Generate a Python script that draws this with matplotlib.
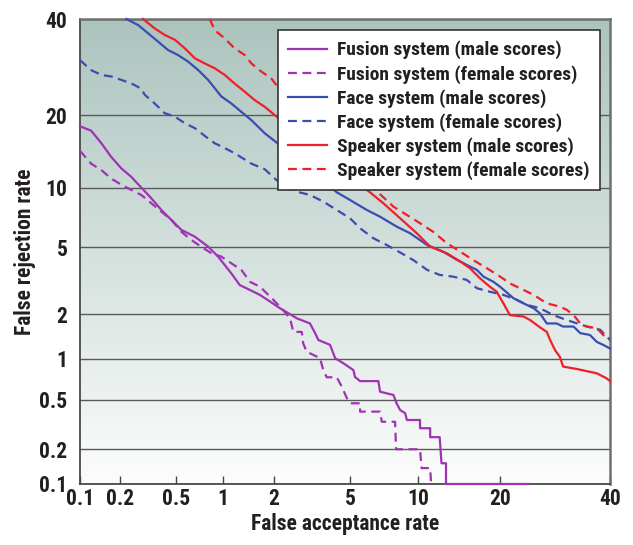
import math
import numpy as np
import matplotlib
matplotlib.use("Agg")
import matplotlib.pyplot as plt
from matplotlib import font_manager

# ---------------- data (percent) ----------------
tick_values = [0.1, 0.2, 0.5, 1, 2, 5, 10, 20, 40]
tick_labels = ["0.1", "0.2", "0.5", "1", "2", "5", "10", "20", "40"]

fusion_male_fa = [0.1, 0.122, 0.146, 0.173, 0.206, 0.243, 0.287, 0.338, 0.397, 0.465, 0.542, 0.665, 0.81, 0.936,
                  1.13, 1.27, 1.46, 1.67, 1.91, 2.17, 2.46, 2.68, 3.15, 3.35, 3.48, 3.99, 4.23, 4.64, 5.19, 5.28,
                  5.58, 6.77, 6.89, 7.89, 8.14, 8.43, 8.86, 9.0, 10.2, 10.2, 11.2, 11.2, 12.2, 12.4, 12.9, 12.9, 24.6]
fusion_male_fr = [18.2, 17.5, 15.6, 13.7, 12.2, 11.2, 10.0, 8.9, 7.8, 6.95, 6.18, 5.69, 5.03, 4.43,
                  3.55, 3.03, 2.83, 2.64, 2.40, 2.18, 2.00, 1.88, 1.74, 1.50, 1.35, 1.25, 1.01, 0.93, 0.83, 0.74,
                  0.69, 0.69, 0.575, 0.543, 0.469, 0.416, 0.392, 0.347, 0.347, 0.298, 0.298, 0.252, 0.252, 0.152,
                  0.152, 0.1, 0.1]

fusion_female_fa = [0.1, 0.122, 0.146, 0.173, 0.206, 0.243, 0.287, 0.338, 0.397, 0.465, 0.542, 0.63, 0.73, 0.85,
                    0.98, 1.13, 1.30, 1.46, 1.67, 1.91, 2.17, 2.46, 2.57, 2.85, 2.90, 3.03, 3.55, 3.69, 3.84, 4.31,
                    4.56, 4.83, 5.0, 5.58, 5.58, 6.89, 7.01, 8.02, 8.1, 10.2, 10.35, 11.2, 11.3]
fusion_female_fr = [14.5, 12.8, 12.0, 11.0, 10.3, 9.75, 9.23, 8.42, 7.65, 6.95, 6.04, 5.47, 5.03, 4.62,
                    4.43, 4.06, 3.72, 3.17, 2.96, 2.58, 2.23, 1.89, 1.53, 1.53, 1.28, 1.12, 1.01, 0.83, 0.736, 0.736,
                    0.627, 0.513, 0.469, 0.469, 0.404, 0.404, 0.336, 0.336, 0.20, 0.20, 0.138, 0.138, 0.1]

face_male_fa = [0.224, 0.272, 0.320, 0.376, 0.441, 0.515, 0.60, 0.70, 0.81, 0.98, 1.13, 1.30, 1.49, 1.78, 2.10,
                2.97, 4.31, 5.0, 6.0, 6.89, 8.14, 9.29, 10.9, 12.6, 14.2, 15.4, 16.7, 17.6, 19.0, 20.0, 22.05,
                23.7, 25.4, 26.5, 27.7, 29.5, 30.7, 32.7, 34.0, 35.9, 37.3, 38.6, 40.0]
face_male_fr = [40, 38.6, 36.7, 34.8, 32.9, 31.8, 30.4, 28.6, 26.6, 23.4, 22.1, 20.6, 19.2, 17.1, 15.6,
                12.5, 9.5, 8.73, 7.8, 7.22, 6.43, 5.93, 5.13, 4.71, 4.24, 3.97, 3.72, 3.40, 3.17, 2.96, 2.52,
                2.34, 2.18, 2.02, 1.74, 1.74, 1.66, 1.66, 1.50, 1.46, 1.31, 1.25, 1.18]

face_female_fa = [0.1, 0.122, 0.146, 0.173, 0.206, 0.243, 0.287, 0.304, 0.357, 0.418, 0.49, 0.571, 0.665, 0.77,
                  0.89, 1.03, 1.18, 1.49, 1.78, 2.08, 2.68, 3.15, 3.69, 4.31, 5.0, 5.58, 6.43, 7.38, 8.43, 9.56,
                  10.9, 12.2, 13.7, 15.4, 16.7, 18.5, 20.5, 22.6, 24.2, 26.5, 28.9, 31.4, 35.3, 38.0, 40.0]
face_female_fr = [30.7, 28.6, 27.6, 27.3, 26.6, 25.9, 24.9, 23.7, 22.1, 20.4, 19.8, 18.7, 17.9, 16.7,
                  15.6, 14.9, 14.2, 12.8, 12.1, 10.8, 9.56, 9.23, 8.57, 7.8, 7.09, 6.30, 5.58, 5.13, 4.67, 4.24,
                  3.72, 3.48, 3.40, 3.25, 2.90, 2.76, 2.64, 2.46, 2.29, 2.18, 1.97, 1.83, 1.66, 1.58, 1.35]

speaker_male_fa = [0.295, 0.357, 0.418, 0.49, 0.571, 0.665, 0.77, 0.89, 1.03, 1.18, 1.36, 1.56, 1.78, 2.08,
                   3.55, 6.2, 7.12, 8.43, 9.9, 11.2, 13.0, 14.6, 15.8, 17.1, 18.5, 19.5, 20.5, 21.5, 23.7, 24.8,
                   26.5, 27.7, 28.3, 29.2, 30.1, 30.7, 33.3, 37.3, 39.3, 40.0]
speaker_male_fr = [40, 37.8, 36.3, 35.2, 33.3, 31.1, 30.0, 29.0, 27.6, 25.9, 24.3, 22.7, 21.5, 19.8,
                   13.9, 9.5, 8.42, 7.09, 5.93, 5.03, 4.62, 4.15, 3.80, 3.33, 2.96, 2.76, 2.34, 1.97, 1.93, 1.83,
                   1.64, 1.53, 1.35, 1.15, 1.03, 0.88, 0.846, 0.787, 0.723, 0.69]

speaker_female_fa = [0.83, 0.89, 1.03, 1.18, 1.36, 1.49, 1.70, 1.94, 2.10, 3.99, 6.89, 7.89, 9.0, 10.2, 11.5,
                     13.0, 14.6, 16.2, 18.1, 20.0, 21.5, 23.7, 25.4, 27.7, 30.1, 31.4, 32.7, 34.0, 35.3, 37.3,
                     38.6, 40.0]
speaker_female_fr = [40, 37.4, 35.5, 33.3, 31.8, 30.0, 28.3, 26.9, 25.3, 15.3, 9.3, 8.1, 7.37, 6.69, 6.04,
                     5.25, 4.71, 4.24, 3.80, 3.40, 3.10, 2.83, 2.64, 2.34, 2.23, 2.13, 1.97, 1.74, 1.66, 1.62,
                     1.46, 1.35]

series_labels = ["Fusion system (male scores)", "Fusion system (female scores)",
                 "Face system (male scores)", "Face system (female scores)",
                 "Speaker system (male scores)", "Speaker system (female scores)"]

# ---------------- normal-deviate (probit) scale ----------------
_erf = np.vectorize(math.erf)


def _probit(p):
    p = np.clip(np.atleast_1d(np.asarray(p, dtype=float)), 1e-12, 1 - 1e-12)
    a = [-3.969683028665376e+01, 2.209460984245205e+02, -2.759285104469687e+02,
         1.383577518672690e+02, -3.066479806614716e+01, 2.506628277459239e+00]
    b = [-5.447609879822406e+01, 1.615858368580409e+02, -1.556989798598866e+02,
         6.680131188771972e+01, -1.328068155288572e+01]
    c = [-7.784894002430293e-03, -3.223964580411365e-01, -2.400758277161838e+00,
         -2.549732539343734e+00, 4.374664141464968e+00, 2.938163982698783e+00]
    d = [7.784695709041462e-03, 3.224671290700398e-01, 2.445134137142996e+00,
         3.754408661907416e+00]
    plow = 0.02425
    out = np.empty_like(p)
    lo = p < plow
    hi = p > 1 - plow
    mid = ~(lo | hi)
    q = np.sqrt(-2 * np.log(p[lo]))
    out[lo] = (((((c[0]*q+c[1])*q+c[2])*q+c[3])*q+c[4])*q+c[5]) / ((((d[0]*q+d[1])*q+d[2])*q+d[3])*q+1)
    q = np.sqrt(-2 * np.log(1 - p[hi]))
    out[hi] = -(((((c[0]*q+c[1])*q+c[2])*q+c[3])*q+c[4])*q+c[5]) / ((((d[0]*q+d[1])*q+d[2])*q+d[3])*q+1)
    q = p[mid] - 0.5
    r = q*q
    out[mid] = (((((a[0]*r+a[1])*r+a[2])*r+a[3])*r+a[4])*r+a[5])*q / (((((b[0]*r+b[1])*r+b[2])*r+b[3])*r+b[4])*r+1)
    return out


def fwd(pct):
    arr = np.asarray(pct, dtype=float)
    return _probit(arr / 100.0).reshape(arr.shape)


def inv(z):
    z = np.asarray(z, dtype=float)
    return 100.0 * 0.5 * (1.0 + _erf(z / math.sqrt(2.0)))


# ---------------- fonts: prefer a condensed bold sans ----------------
entries = font_manager.fontManager.ttflist
names = {f.name for f in entries}
condensed = None
for cand in ["Roboto Condensed", "Liberation Sans Narrow", "Arial Narrow", "Nimbus Sans Narrow",
             "Open Sans Condensed", "Noto Sans Condensed"]:
    if cand in names:
        condensed = cand
        break
if condensed is not None:
    family = condensed
    tick_fs, label_fs, leg_fs = 15.5, 15.5, 14
else:
    family = "Liberation Sans"
    tick_fs, label_fs, leg_fs = 14, 14, 12.3
plt.rcParams["font.family"] = [family, "DejaVu Sans"]
plt.rcParams["font.weight"] = "bold"

# ---------------- figure ----------------
W, H = 633, 545
fig = plt.figure(figsize=(W / 100, H / 100), dpi=100)
fig.patch.set_facecolor("white")
pos = [80 / W, 1 - 484 / H, 530 / W, 465 / H]

bg = fig.add_axes(pos, zorder=0)
top = np.array([172, 196, 190]) / 255.0
bot = np.array([252, 253, 252]) / 255.0
t = np.linspace(0, 1, 256)[:, None]
grad = top[None, :] * (1 - t) + bot[None, :] * t
bg.imshow(grad[:, None, :], aspect="auto", extent=[0, 1, 0, 1], interpolation="bilinear")
bg.set_axis_off()

ax = fig.add_axes(pos, zorder=1)
ax.patch.set_alpha(0)
ax.set_xscale("function", functions=(fwd, inv))
ax.set_yscale("function", functions=(fwd, inv))
ax.set_xlim(0.1, 40)
ax.set_ylim(0.1, 40)
ax.set_xticks(tick_values)
ax.set_xticklabels(tick_labels)
ax.set_yticks(tick_values)
ax.set_yticklabels(tick_labels)
ax.xaxis.set_minor_locator(matplotlib.ticker.NullLocator())
ax.yaxis.set_minor_locator(matplotlib.ticker.NullLocator())

ax.yaxis.grid(True, color="#5a5a5a", linewidth=1.0)
ax.set_axisbelow(True)
ax.tick_params(axis="x", direction="in", length=6, width=1, color="#444444", pad=3, labelsize=tick_fs)
ax.tick_params(axis="y", length=0, pad=9, labelsize=tick_fs)
for lab in ax.get_xticklabels() + ax.get_yticklabels():
    lab.set_fontweight("bold")
    lab.set_color("#231f20")

for side in ["left", "bottom"]:
    ax.spines[side].set_color("#4a4a4a")
    ax.spines[side].set_linewidth(1.3)
for side in ["top", "right"]:
    ax.spines[side].set_color("#707070")
    ax.spines[side].set_linewidth(1.8)

purple = "#a033b5"
blue = "#3a4db0"
red = "#f0202a"
dash = (0, (4, 2.5))
lw = 1.6

series = [
    (fusion_male_fa, fusion_male_fr, purple, "-"),
    (fusion_female_fa, fusion_female_fr, purple, dash),
    (face_male_fa, face_male_fr, blue, "-"),
    (face_female_fa, face_female_fr, blue, dash),
    (speaker_male_fa, speaker_male_fr, red, "-"),
    (speaker_female_fa, speaker_female_fr, red, dash),
]
for (xs, ys, col, ls), lab in zip(series, series_labels):
    ax.plot(xs, ys, color=col, linestyle=ls, linewidth=lw, label=lab, clip_on=False, zorder=3)

ax.set_xlabel("False acceptance rate", fontsize=label_fs, fontweight="bold", color="#231f20")
ax.set_ylabel("False rejection rate", fontsize=label_fs, fontweight="bold", color="#231f20")
ax.xaxis.set_label_coords(0.5, (484 - 524) / 465, transform=ax.transAxes)
ax.xaxis.label.set_va("center")
ax.yaxis.set_label_coords((25 - 80) / 530, 0.5, transform=ax.transAxes)
ax.yaxis.label.set_va("center")

leg = ax.legend(loc="upper right", bbox_to_anchor=(600 / W, 1 - 30 / H), bbox_transform=fig.transFigure,
                fontsize=leg_fs, frameon=True, fancybox=False, framealpha=1.0, edgecolor="#333333",
                handlelength=2.0, handletextpad=0.5, labelspacing=0.27, borderpad=0.55, borderaxespad=0)
leg.get_frame().set_linewidth(1.2)
leg.set_zorder(5)
for txt in leg.get_texts():
    txt.set_fontweight("bold")
    txt.set_color("#231f20")

fig.savefig("out.png", dpi=100)
